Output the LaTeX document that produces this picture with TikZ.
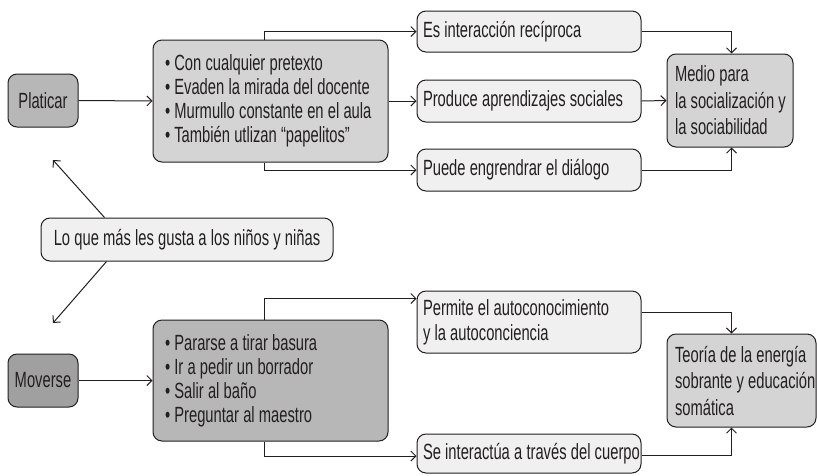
\documentclass[tikz,border=0pt]{standalone}
\usepackage{fontspec}
\setmainfont[FakeStretch=0.67]{Liberation Sans}
\usetikzlibrary{arrows.meta}
\hyphenpenalty=10000
\exhyphenpenalty=10000
\hbadness=10000
\hfuzz=100pt
\newcommand{\bxfont}[1]{\fontsize{22}{#1}\selectfont}
\definecolor{txt}{HTML}{231F20}
\definecolor{darkfill}{HTML}{A0A0A0}
\definecolor{midfill}{HTML}{B7B7B7}
\definecolor{lightfill}{HTML}{D4D4D4}
\definecolor{palefill}{HTML}{F0F0F0}
\tikzset{
  box/.style={draw=txt, line width=1pt, rounded corners=9pt, inner sep=0pt, text=txt,
              font=\bxfont{25}, execute at begin node={\spaceskip=4.2pt\relax\xspaceskip=4.2pt\relax}},
  arr/.style={draw=txt, line width=1pt, -{Straight Barb[length=5pt,width=10pt]}},
}
\begin{document}
\begin{tikzpicture}[x=1pt,y=-1pt]
\fill[white] (0,0) rectangle (817,475);
\useasboundingbox (0,0) rectangle (817,475);

% left column
\node[box, fill=midfill, minimum width=70pt, minimum height=53pt] (plat) at (43,100.5) {Platicar};
\node[box, fill=darkfill, minimum width=70pt, minimum height=53pt] (mov) at (43,380.5) {Moverse};
\node[box, fill=palefill, minimum width=292pt, minimum height=43pt] (lo) at (187,239.5) {Lo que más les gusta a los niños y niñas};

% bullet boxes
\node[box, fill=lightfill, minimum width=235pt, minimum height=122pt, text width=211pt, align=left,
      font=\bxfont{24}] (b1) at (270.5,101)
  {\mbox{• Con cualquier pretexto}\\
   \mbox{• Evaden la mirada del docente}\\
   \mbox{• Murmullo constante en el aula}\\
   \mbox{• También utlizan “papelitos”}};
\node[box, fill=midfill, minimum width=235pt, minimum height=121pt, text width=211pt, align=left,
      font=\bxfont{24}] (b2) at (270.5,380.5)
  {\mbox{• Pararse a tirar basura}\\
   \mbox{• Ir a pedir un borrador}\\
   \mbox{• Salir al baño}\\
   \mbox{• Preguntar al maestro}};

% right column, top
\node[box, fill=palefill, minimum width=224pt, minimum height=41pt, text width=212pt, align=left] (es) at (529,31.5) {\mbox{Es interacción recíproca}};
\node[box, fill=palefill, minimum width=224pt, minimum height=42pt, text width=212pt, align=left] (prod) at (529,101) {\mbox{Produce aprendizajes sociales}};
\node[box, fill=palefill, minimum width=224pt, minimum height=42pt, text width=212pt, align=left] (puede) at (529,170) {\mbox{Puede engrendrar el diálogo}};
\node[box, fill=lightfill, minimum width=126pt, minimum height=93pt, text width=110pt, align=left,
      font=\bxfont{26.5}] (medio) at (730,100.5) {\mbox{Medio para}\\\mbox{la socialización y}\\\mbox{la sociabilidad}};

% right column, bottom
\node[box, fill=palefill, minimum width=224pt, minimum height=62pt, text width=212pt, align=left] (perm) at (529,322) {\mbox{Permite el autoconocimiento}\\\mbox{y la autoconciencia}};
\node[box, fill=palefill, minimum width=224pt, minimum height=39pt, text width=212pt, align=left] (se) at (529,453.5) {\mbox{Se interactúa a través del cuerpo}};
\node[box, fill=lightfill, minimum width=149pt, minimum height=93pt, text width=133pt, align=left,
      font=\bxfont{26.5}] (teo) at (741.5,380.5) {\mbox{Teoría de la energía}\\\mbox{sobrante y educación}\\\mbox{somática}};

% free ends of the diagonal arrows
\coordinate (pa) at (53,160);
\coordinate (ma) at (53,323);

% connectors
\draw[arr] (plat.east) -- (b1.west);
\draw[arr] ([xshift=112pt]b1.north west) |- (es.west);
\draw[arr] (b1.east) -- (prod.west);
\draw[arr] ([xshift=112pt]b1.south west) |- (puede.west);
\draw[arr] (es.east) -| ([xshift=65pt]medio.north west);
\draw[arr] (prod.east) -- (medio.west);
\draw[arr] (puede.east) -| ([xshift=65pt]medio.south west);

\draw[arr] ([xshift=64pt]lo.north west) -- (pa);
\draw[arr] ([xshift=66pt]lo.south west) -- (ma);

\draw[arr] (mov.east) -- (b2.west);
\draw[arr] ([xshift=112pt]b2.north west) |- ([yshift=-8pt]perm.north west);
\draw[arr] ([xshift=112pt]b2.south west) |- ([yshift=-2.5pt]se.west);
\draw[arr] ([yshift=10pt]perm.east) -| ([xshift=65pt]teo.north west);
\draw[arr] ([yshift=-1.5pt]se.east) -| ([xshift=65pt]teo.south west);
\end{tikzpicture}
\end{document}
